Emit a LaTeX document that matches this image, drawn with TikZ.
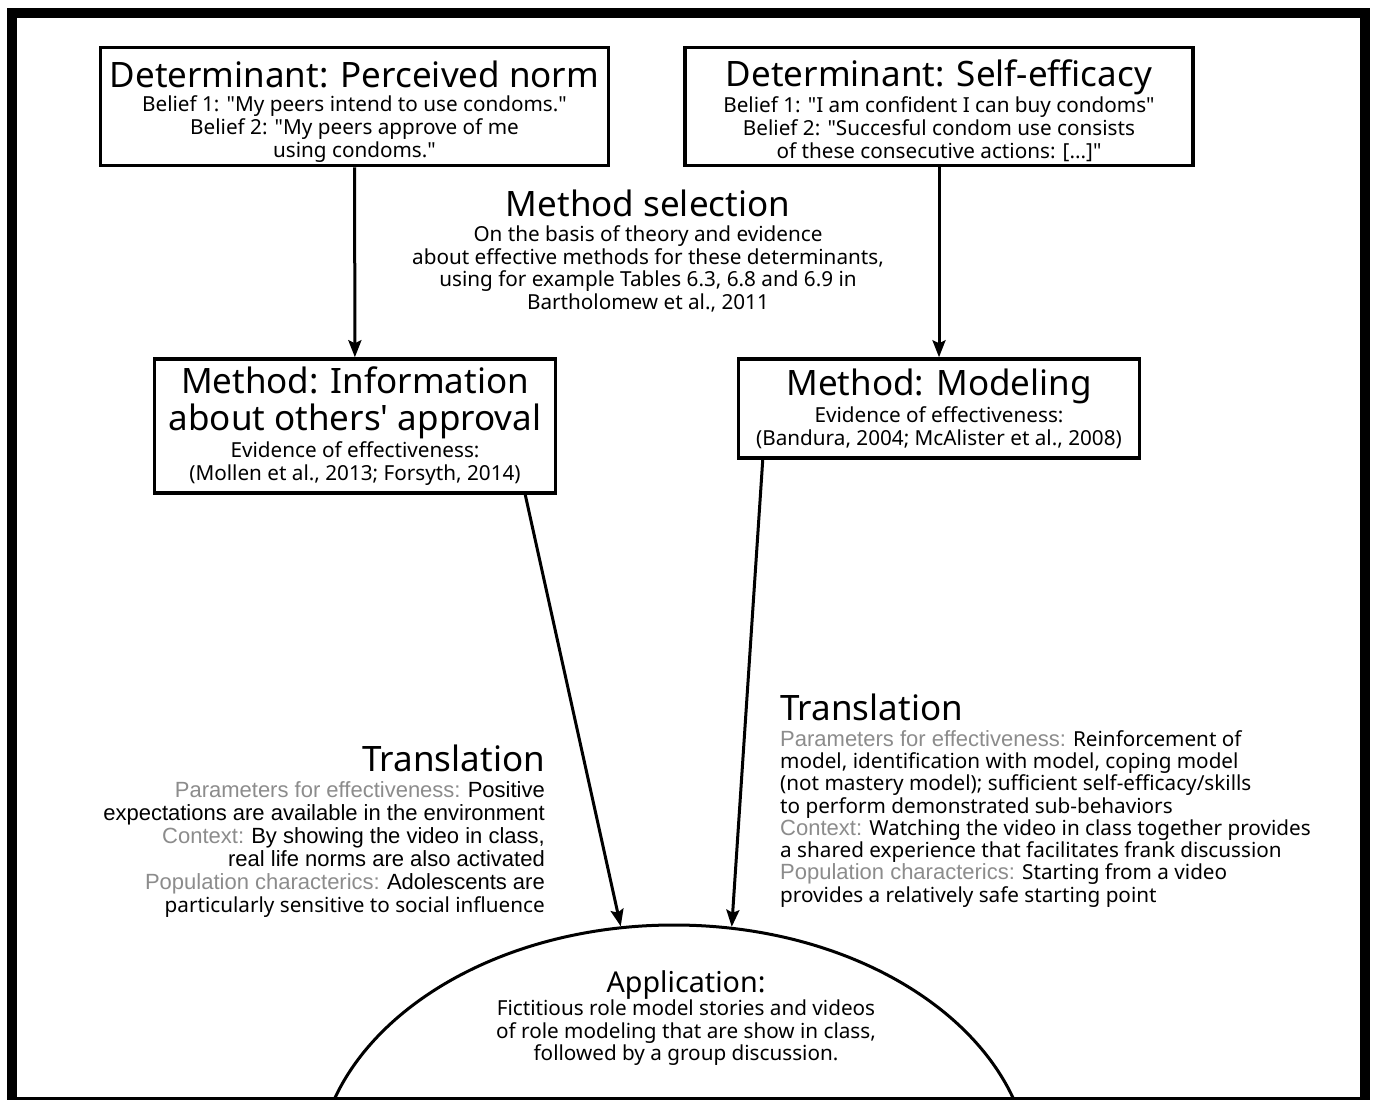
\documentclass[tikz,border=0pt]{standalone}
\usepackage{fontspec}
\setmainfont{Noto Sans}[Ligatures=TeXOff]
\newfontfamily\arialf{Liberation Sans}
\usetikzlibrary{arrows.meta,shapes.geometric}
\definecolor{lbl}{HTML}{8C8C8C}
\newcommand{\ar}[1]{{\arialf\fontsize{22}{22.5}\selectfont #1}}
\newcommand{\lab}[1]{{\arialf\fontsize{22}{22.5}\selectfont\color{lbl}#1}}
\newcommand{\ttl}[1]{{\fontsize{35}{36}\selectfont #1}}
\begin{document}
\begin{tikzpicture}[x=1pt,y=-1pt,
  box/.style={draw, line width=3.5pt, align=center, inner sep=0pt,
    font=\fontsize{20.7}{23}\selectfont},
  txt/.style={inner sep=0pt, font=\fontsize{20.7}{22.5}\selectfont},
  arr/.style={line width=3pt, -{Stealth[length=17pt,width=13pt,inset=3pt]}}]
\useasboundingbox (0,0) rectangle (1373,1100);
\fill[black] (7,8) rectangle (1370,1115);
\fill[white] (17,18) rectangle (1360,1097);
% boxes
\node[box, minimum width=508, minimum height=118] (b1) at (354.5,106.5)
  {\rule{0pt}{36pt}\ttl{Determinant: Perceived norm}\\[1pt]
   Belief 1: "My peers intend to use condoms."\\
   Belief 2: "My peers approve of me\\ using condoms."};
\node[box, minimum width=508, minimum height=118] (b2) at (939,106.5)
  {\rule{0pt}{36pt}\ttl{Determinant: Self-efficacy}\\[1pt]
   Belief 1: "I am confident I can buy condoms"\\
   Belief 2: "Succesful condom use consists\\ of these consecutive actions: [...]"};
\node[box, minimum width=401, minimum height=134] (b3) at (355,426)
  {\ttl{Method: Information}\\[9pt]
   \ttl{about others' approval}\\[2pt]
   Evidence of effectiveness:\\
   (Mollen et al., 2013; Forsyth, 2014)};
\node[box, minimum width=401, minimum height=99] (b4) at (939,408.5)
  {\ttl{Method: Modeling}\\[2pt]
   Evidence of effectiveness:\\
   (Bandura, 2004; McAlister et al., 2008)};
% method selection
\node[txt, align=center] (ms) at (648,251)
  {\ttl{Method selection}\\[3pt]
   On the basis of theory and evidence\\
   about effective methods for these determinants,\\
   using for example Tables 6.3, 6.8 and 6.9 in\\
   Bartholomew et al., 2011};
% application ellipse
\begin{scope}
\clip (17,18) rectangle (1360,1097);
\node[ellipse, draw, line width=3pt, minimum width=714, minimum height=504, inner sep=0pt] (app) at (674,1177) {};
\end{scope}
\node[txt, align=center] (apptxt) at (686,1018)
  {{\fontsize{28.7}{28}\selectfont Application:}\\
   Fictitious role model stories and videos\\
   of role modeling that are show in class,\\
   followed by a group discussion.};
% translations
\node[txt, align=right, anchor=north east, font=\fontsize{20.7}{23}\selectfont] (tl) at (545,745)
  {\ttl{Translation}\\[3pt]
   \lab{Parameters for effectiveness:} \ar{Positive}\\
   \ar{expectations are available in the environment}\\
   \lab{Context:} \ar{By showing the video in class,}\\
   \ar{real life norms are also activated}\\
   \lab{Population characterics:} \ar{Adolescents are}\\
   particularly sensitive to social influence};
\node[txt, align=left, anchor=north west, font=\fontsize{20.7}{22.3}\selectfont] (tr) at (780,694)
  {\ttl{Translation}\\[3pt]
   \lab{Parameters for effectiveness:} Reinforcement of\\
   model, identification with model, coping model\\
   (not mastery model); sufficient self-efficacy/skills\\
   to perform demonstrated sub-behaviors\\
   \lab{Context:} Watching the video in class together provides\\
   a shared experience that facilitates frank discussion\\
   \lab{Population characterics:} Starting from a video\\
   provides a relatively safe starting point};
% connectors
\draw[arr] (b1) -- (b3);
\draw[arr] (b2) -- (b4);
\draw[arr] ([xshift=-32pt]b3.south east) -- (app.102.9);
\draw[arr] ([xshift=26pt]b4.south west) -- (app.77.3);
\end{tikzpicture}
\end{document}
